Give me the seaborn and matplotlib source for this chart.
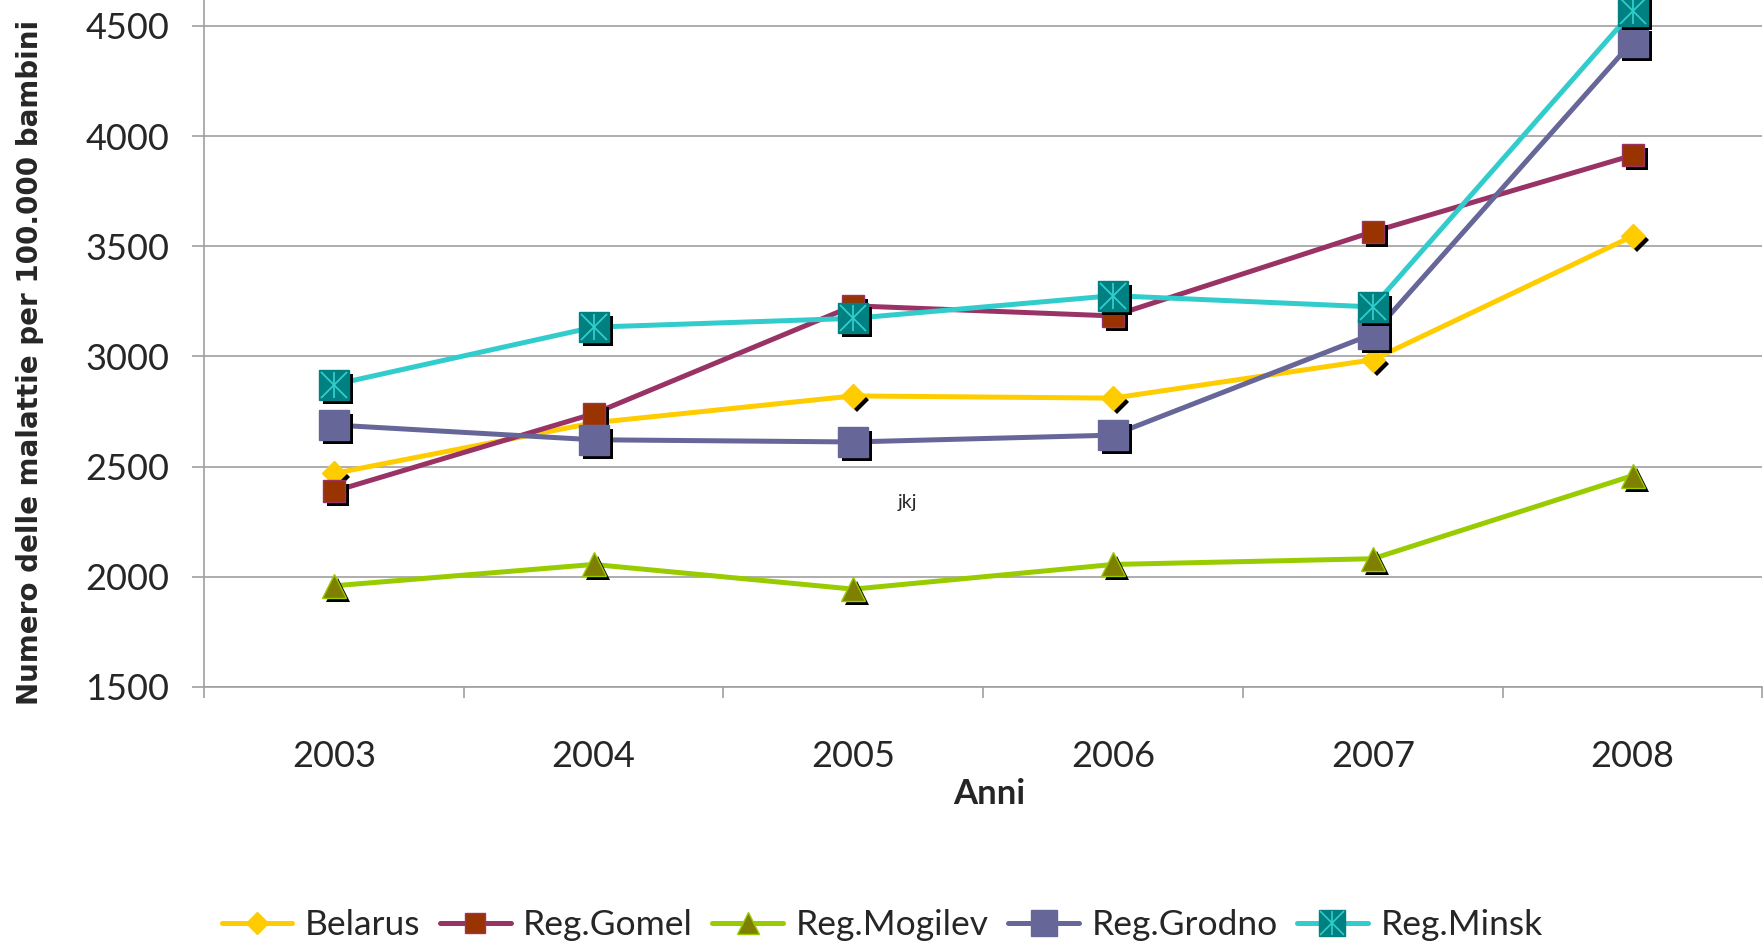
import numpy as np
import pandas as pd
import matplotlib
matplotlib.use("Agg")
import matplotlib.pyplot as plt
import matplotlib.transforms as mtransforms
from matplotlib.lines import Line2D
import seaborn as sns

# data
anni = ["2003", "2004", "2005", "2006", "2007", "2008"]
belarus = [2469, 2699, 2821, 2811, 2985, 3546]
gomel = [2388, 2740, 3230, 3184, 3566, 3913]
mogilev = [1959, 2056, 1944, 2056, 2082, 2459]
grodno = [2689, 2622, 2612, 2643, 3102, 4429]
minsk = [2872, 3133, 3173, 3276, 3225, 4566]
nomi = ["Belarus", "Reg.Gomel", "Reg.Mogilev", "Reg.Grodno", "Reg.Minsk"]
y_ticks = [1500, 2000, 2500, 3000, 3500, 4000, 4500]

df = pd.DataFrame({"Anno": anni, "Belarus": belarus, "Reg.Gomel": gomel,
                   "Reg.Mogilev": mogilev, "Reg.Grodno": grodno, "Reg.Minsk": minsk})
df["pos"] = np.arange(len(anni))

# line colour, marker, size, face, edge
stili = {
    "Belarus": dict(lc="#FFCC00", m="D", ms=12.5, fc="#FFCC00", ec="#FFCC00"),
    "Reg.Gomel": dict(lc="#993366", m="s", ms=16, fc="#993300", ec="#993366"),
    "Reg.Mogilev": dict(lc="#99CC00", m="^", ms=17, fc="#808000", ec="#99CC00"),
    "Reg.Grodno": dict(lc="#666699", m="s", ms=21.5, fc="#666699", ec="#666699"),
    "Reg.Minsk": dict(lc="#33CCCC", m="s", ms=21.5, fc="#008080", ec="#008080"),
}

sns.set_style("white")
plt.rcParams["font.family"] = ["Lato", "DejaVu Sans"]

fig = plt.figure(figsize=(17.64, 9.47), dpi=100)
ax = fig.add_axes([0.1156, 0.2746, 0.8835, 0.7254])

shadow = ax.transData + mtransforms.ScaledTranslation(4 / 100, -4 / 100, fig.dpi_scale_trans)

handles = []
for i, nome in enumerate(nomi):
    s = stili[nome]
    z = 3 + i
    sns.lineplot(data=df, x="pos", y=nome, color=s["lc"], linewidth=3.6, ax=ax,
                 zorder=z, legend=False)
    ax.plot(df["pos"], df[nome], linestyle="none", marker=s["m"], markersize=s["ms"],
            color="black", markeredgewidth=0, transform=shadow, zorder=z + 0.1)
    ax.plot(df["pos"], df[nome], linestyle="none", marker=s["m"], markersize=s["ms"],
            markerfacecolor=s["fc"], markeredgecolor=s["ec"], markeredgewidth=1,
            zorder=z + 0.2)
    h = Line2D([], [], color=s["lc"], linewidth=3.6, marker=s["m"], markersize=s["ms"] * 0.9,
               markerfacecolor=s["fc"], markeredgecolor=s["ec"], markeredgewidth=1)
    if nome == "Reg.Minsk":
        for mk in ["x", "|"]:
            ax.plot(df["pos"], df[nome], linestyle="none", marker=mk, markersize=19,
                    color="#33CCCC", markeredgewidth=1.3, zorder=z + 0.3)
        hx = Line2D([], [], linestyle="none", marker="x", markersize=17, color="#33CCCC",
                    markeredgewidth=1.2)
        hv = Line2D([], [], linestyle="none", marker="|", markersize=17, color="#33CCCC",
                    markeredgewidth=1.2)
        handles.append((h, hx, hv))
    else:
        handles.append(h)

ax.set_xlim(-0.5, len(anni) - 0.5)
ax.set_ylim(1500, 4618)
ax.set_yticks(y_ticks)
ax.set_yticklabels([str(v) for v in y_ticks])
ax.set_xticks(np.arange(len(anni) + 1) - 0.5)
ax.set_xticklabels([])
ax.set_xticks(np.arange(len(anni)), minor=True)
ax.set_xticklabels(anni, minor=True)

ax.grid(axis="y", color="#A0A0A0", linewidth=1.2)
ax.grid(axis="x", visible=False)
for side in ["top", "right"]:
    ax.spines[side].set_visible(False)
for side in ["left", "bottom"]:
    ax.spines[side].set_color("#A0A0A0")
    ax.spines[side].set_linewidth(1.2)

ax.tick_params(axis="y", which="major", direction="out", length=9, width=1.2,
               color="#A0A0A0", left=True, labelsize=26, pad=16)
ax.tick_params(axis="x", which="major", direction="out", length=8, width=1.2,
               color="#A0A0A0", bottom=True)
ax.tick_params(axis="x", which="minor", length=0, labelsize=26, pad=38)

ax.set_xlabel("Anni", fontsize=25, fontweight="bold")
ax.xaxis.set_label_coords(0.504, -0.156)
ax.xaxis.label.set_va("center")
ax.set_ylabel("Numero delle malattie per 100.000 bambini", fontsize=20,
              fontweight="bold", family="DejaVu Sans")
ax.yaxis.set_label_coords(-0.1115, 0.473)
ax.yaxis.label.set_va("center")

ax.text(2.21, 2336, "jkj", fontsize=14, ha="center", va="center")

fig.legend(handles, nomi, loc="center", bbox_to_anchor=(0.5, 0.023), ncol=5,
           frameon=False, fontsize=25.5, handlelength=2.0, handletextpad=0.35,
           columnspacing=0.55, borderaxespad=0)

fig.savefig("out.png", dpi=100)
